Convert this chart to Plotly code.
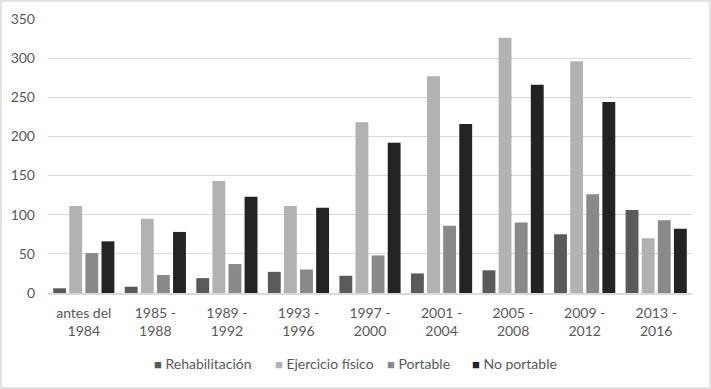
import plotly.graph_objects as go

categories = ["antes del<br>1984", "1985 -<br>1988", "1989 -<br>1992", "1993 -<br>1996",
              "1997 -<br>2000", "2001 -<br>2004", "2005 -<br>2008", "2009 -<br>2012", "2013 -<br>2016"]
rehabilitacion = [6, 8, 19, 27, 22, 25, 29, 75, 106]
ejercicio = [111, 95, 143, 111, 218, 277, 326, 296, 70]
portable = [51, 23, 37, 30, 48, 86, 90, 126, 93]
no_portable = [66, 78, 123, 109, 192, 216, 266, 244, 82]

series = [
    ("Rehabilitación", rehabilitacion, "#5A5A5A"),
    ("Ejercicio físico", ejercicio, "#B2B2B2"),
    ("Portable", portable, "#898989"),
    ("No portable", no_portable, "#232323"),
]

FAM = "Lato, 'Open Sans', sans-serif"
font = dict(family=FAM, size=13, color="#595959")

fig = go.Figure()
for name, vals, col in series:
    fig.add_trace(go.Bar(x=categories, y=vals, name=name,
                         marker=dict(color=col, line=dict(color=col, width=0))))

# legend drawn as text items (square + label), like the original
L, R, T, B = 48, 19, 19, 96
PW, PH = 711 - L - R, 389 - T - B
legend_px = [152, 273, 385, 470]
annotations = []
for (name, vals, col), px in zip(series, legend_px):
    annotations.append(dict(
        xref="paper", yref="paper", x=(px - L) / PW, y=(293 - 363) / PH,
        xanchor="left", yanchor="middle", showarrow=False,
        text=f"<span style='color:{col};font-size:13px'>■</span> {name}",
        font=dict(family=FAM, size=14, color="#595959")))

fig.update_layout(
    width=711, height=389,
    margin=dict(l=L, r=R, t=T, b=B, autoexpand=False),
    paper_bgcolor="white", plot_bgcolor="white",
    barmode="group", bargap=0.1, bargroupgap=0.2,
    font=font,
    showlegend=False,
    annotations=annotations,
    xaxis=dict(showgrid=False, showline=True, linecolor="#D9D9D9", linewidth=1.5,
               ticks="", tickfont=dict(family=FAM, size=14, color="#595959"),
               ticklabelstandoff=6, automargin=False, fixedrange=True),
    yaxis=dict(range=[0, 350], dtick=50, showgrid=True, gridcolor="#D9D9D9", gridwidth=1,
               zeroline=False, showline=False, ticks="",
               tickfont=dict(family=FAM, size=14, color="#595959"),
               ticklabelstandoff=12, automargin=False, fixedrange=True),
    shapes=[dict(type="rect", xref="paper", yref="paper",
                 x0=(1 - L) / PW, x1=(710 - L) / PW,
                 y0=(293 - 388) / PH, y1=(293 - 1) / PH,
                 line=dict(color="#D9D9D9", width=1.5), fillcolor="rgba(0,0,0,0)",
                 layer="below")],
)

fig.write_html("out.html", config={"displayModeBar": False})

# remove the browser's default body margin so the figure sits at the window origin
with open("out.html", encoding="utf-8") as f:
    html = f.read()
html = html.replace("<body>", "<body style=\"margin:0;overflow:hidden\">", 1)
with open("out.html", "w", encoding="utf-8") as f:
    f.write(html)
